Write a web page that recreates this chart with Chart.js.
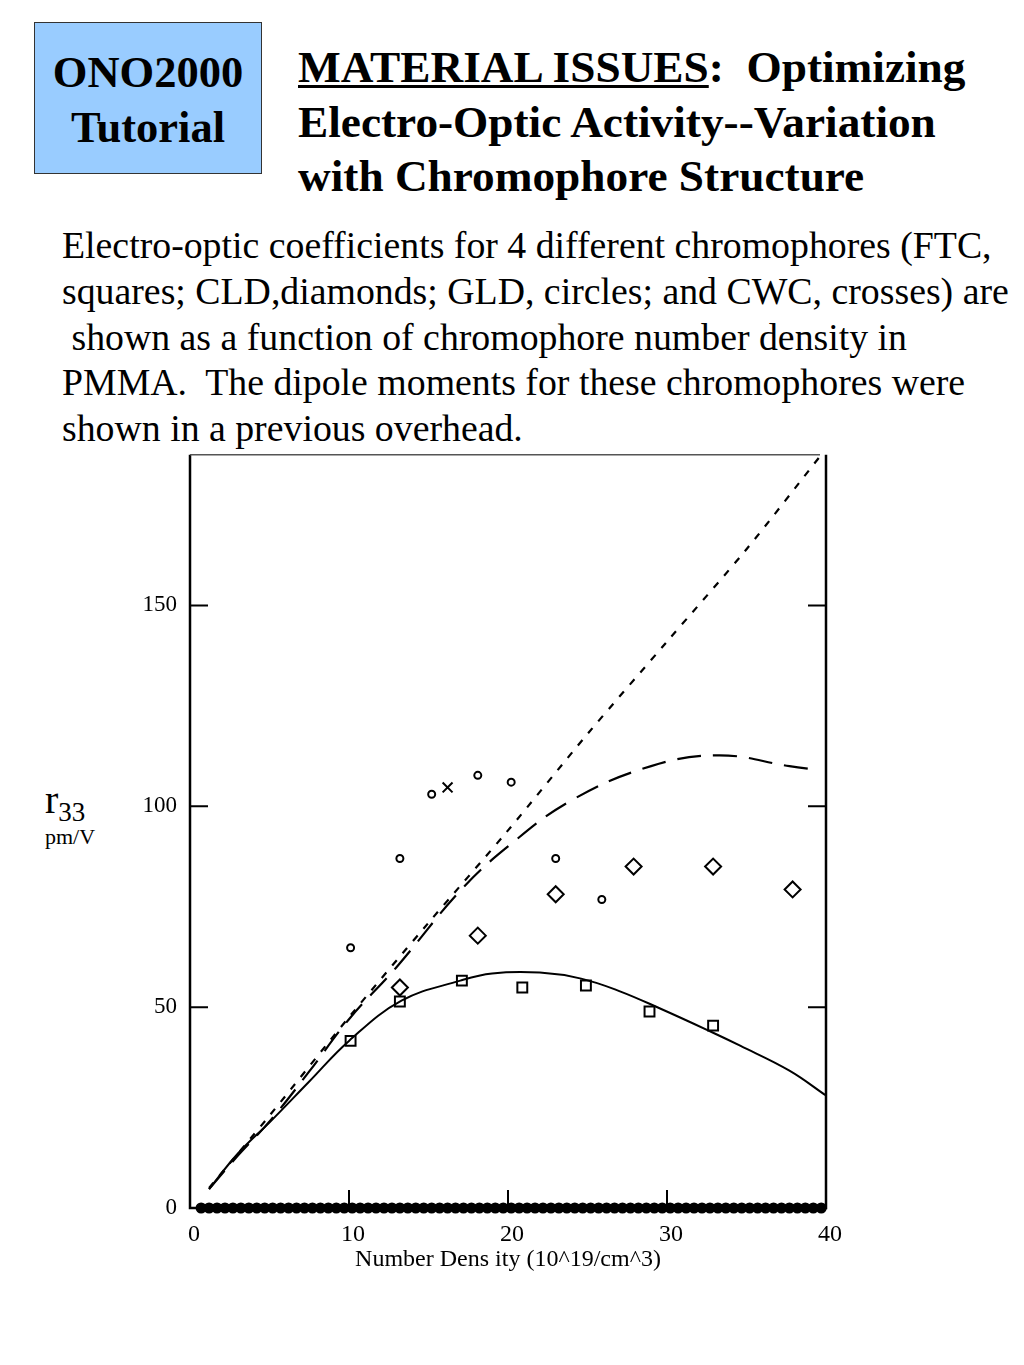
<!DOCTYPE html>
<html>
<head>
<meta charset="utf-8">
<script src="https://cdn.jsdelivr.net/npm/chart.js@4.4.1/dist/chart.umd.min.js"></script>
<style>
  body { margin: 0; background: #fff; font-family: "Liberation Serif", "Times New Roman", serif; }
  #page { position: relative; width: 1024px; height: 1365px; overflow: hidden; }
  #badge {
    position: absolute; left: 34px; top: 22px; width: 228px; height: 152px;
    background: #99ccff; border: 1px solid #333; box-sizing: border-box;
    font-weight: bold; font-size: 44.5px; line-height: 55px; text-align: center;
    padding-top: 22px;
  }
  #title {
    position: absolute; left: 298px; top: 40px; font-weight: bold;
    font-size: 45.3px; line-height: 54.5px; white-space: nowrap;
  }
  #title u { text-decoration-thickness: 3px; text-underline-offset: 3px; }
  #desc {
    position: absolute; left: 62px; top: 223px; font-size: 37.8px; line-height: 45.8px;
    white-space: pre;
  }
  #ylab { position: absolute; left: 45px; top: 776px; }
  #ylab .r { font-size: 40px; }
  #ylab sub { font-size: 27px; vertical-align: -8px; }
  #ylab .u { font-size: 22px; margin-top: -4px; }
  #wrap { position: absolute; left: 0; top: 436px; width: 1024px; height: 864px; }
</style>
</head>
<body>
<div id="page">
  <div id="badge">ONO2000<br>Tutorial</div>
  <div id="title"><u>MATERIAL ISSUES</u>:&nbsp; Optimizing<br>Electro-Optic Activity--Variation<br>with Chromophore Structure</div>
  <div id="desc">Electro-optic coefficients for 4 different chromophores (FTC,
squares; CLD,diamonds; GLD, circles; and CWC, crosses) are
 shown as a function of chromophore number density in
PMMA.  The dipole moments for these chromophores were
shown in a previous overhead.</div>
  <div id="ylab"><div><span class="r">r</span><sub>33</sub></div><div class="u">pm/V</div></div>
  <div id="wrap"><canvas id="chart"></canvas></div>
</div>
<script>
// measured points (number density, r33)
let ftcX = [10.1, 13.2, 17.1, 20.9, 24.9, 28.9, 32.9],
    ftcY = [41.6, 51.4, 56.6, 54.9, 55.4, 48.9, 45.4],
    cldX = [13.2, 18.1, 23.0, 27.9, 32.9, 37.9],
    cldY = [54.9, 67.8, 78.1, 85.0, 85.0, 79.3],
    gldX = [10.1, 13.2, 15.2, 18.1, 20.2, 23.0, 25.9],
    gldY = [64.8, 87.0, 103.0, 107.7, 106.0, 87.0, 76.8],
    cwcX = [16.2],
    cwcY = [104.7]

// fitted curves
let solidX = [1.2, 3, 5.1, 7.5, 10, 13.3, 17, 19, 22, 24.6, 27, 29.6, 32.7, 34.6, 37.7, 40],
    solidY = [4.7, 13.5, 21.7, 31.5, 41.6, 51.6, 56.6, 58.4, 58.6, 57.1, 54, 49.6, 44, 40.4, 34.2, 28],
    longX = [1.2, 3, 5.1, 7.5, 10, 13, 17, 20, 24, 29, 33.3, 37.7, 39.6],
    longY = [4.7, 13, 22, 34, 47, 60, 79, 90, 101.5, 110, 112.7, 110, 109],
    shortX = [1.2, 5, 10, 15, 20, 25, 30, 35, 39.7],
    shortY = [5, 23, 47.5, 71, 94, 118, 141, 164, 187.5]

// pile of markers sitting on the zero line
let zeroX = [0.7, 1.2, 1.7, 2.2, 2.7, 3.2, 3.7, 4.2, 4.7, 5.2, 5.7, 6.2, 6.7, 7.2, 7.7, 8.2, 8.7, 9.2, 9.7,
             10.2, 10.7, 11.2, 11.7, 12.2, 12.7, 13.2, 13.7, 14.2, 14.7, 15.2, 15.7, 16.2, 16.7, 17.2, 17.7,
             18.2, 18.7, 19.2, 19.7, 20.2, 20.7, 21.2, 21.7, 22.2, 22.7, 23.2, 23.7, 24.2, 24.7, 25.2, 25.7,
             26.2, 26.7, 27.2, 27.7, 28.2, 28.7, 29.2, 29.7, 30.2, 30.7, 31.2, 31.7, 32.2, 32.7, 33.2, 33.7,
             34.2, 34.7, 35.2, 35.7, 36.2, 36.7, 37.2, 37.7, 38.2, 38.7, 39.2, 39.7]

let xTicks = [0, 10, 20, 30, 40],
    yTicks = [0, 50, 100, 150]

const pts = (xs, ys) => xs.map((x, i) => ({x: x, y: ys[i]}))

// frame + inward tick marks like the original plot
const frame = {
  id: "frame",
  afterDatasetsDraw(chart) {
    let c = chart.ctx, a = chart.chartArea, xs = chart.scales.x, ys = chart.scales.y
    c.save()
    c.strokeStyle = "#000"
    c.lineWidth = 2.5
    c.beginPath()
    c.moveTo(a.left, a.top); c.lineTo(a.left, a.bottom); c.lineTo(a.right, a.bottom); c.lineTo(a.right, a.top)
    c.stroke()
    c.strokeStyle = "#555"
    c.lineWidth = 1.5
    c.beginPath(); c.moveTo(a.left, a.top); c.lineTo(a.right - 6, a.top); c.stroke()
    c.strokeStyle = "#000"
    c.lineWidth = 2
    c.beginPath()
    for (let v of [50, 100, 150]) {
      let py = ys.getPixelForValue(v)
      c.moveTo(a.left, py); c.lineTo(a.left + 18, py)
      c.moveTo(a.right, py); c.lineTo(a.right - 18, py)
    }
    for (let v of [10, 20, 30]) {
      let px = xs.getPixelForValue(v)
      c.moveTo(px, a.bottom); c.lineTo(px, a.bottom - 18)
    }
    c.stroke()
    c.restore()
  }
}

new Chart(document.getElementById("chart"), {
  type: "scatter",
  plugins: [frame],
  data: {
    datasets: [
      {data: pts(shortX, shortY), showLine: true, borderColor: "#000", borderWidth: 2.2, borderDash: [7, 9], pointRadius: 0, tension: 0.3},
      {data: pts(longX, longY), showLine: true, borderColor: "#000", borderWidth: 2.2, borderDash: [24, 12], pointRadius: 0, tension: 0.4},
      {data: pts(solidX, solidY), showLine: true, borderColor: "#000", borderWidth: 2, pointRadius: 0, tension: 0.4},
      {data: pts(ftcX, ftcY), pointStyle: "rect", pointRadius: 7, borderColor: "#000", borderWidth: 2, backgroundColor: "rgba(0,0,0,0)"},
      {data: pts(cldX, cldY), pointStyle: "rectRot", pointRadius: 8, borderColor: "#000", borderWidth: 2, backgroundColor: "rgba(0,0,0,0)"},
      {data: pts(gldX, gldY), pointStyle: "circle", pointRadius: 3.5, borderColor: "#000", borderWidth: 2, backgroundColor: "#fff"},
      {data: pts(cwcX, cwcY), pointStyle: "crossRot", pointRadius: 7, borderColor: "#000", borderWidth: 2},
      {data: zeroX.map(x => ({x: x, y: 0})), clip: false, pointStyle: "circle", pointRadius: 4.8, borderColor: "#000", borderWidth: 1.5, backgroundColor: "#000"}
    ]
  },
  options: {
    responsive: true,
    maintainAspectRatio: false,
    animation: false,
    events: [],
    layout: {padding: {left: 136, right: 198, top: 0, bottom: 26}},
    plugins: {legend: {display: false}, tooltip: {enabled: false}},
    scales: {
      x: {
        type: "linear", min: 0, max: 40,
        afterBuildTicks: s => { s.ticks = xTicks.map(v => ({value: v})) },
        afterFit: s => { s.height = 66 },
        grid: {display: false},
        border: {display: false},
        ticks: {color: "#000", padding: 4, labelOffset: 4, font: {family: "Liberation Serif", size: 24}},
        title: {display: true, text: "Number Dens ity (10^19/cm^3)", color: "#000", padding: {top: 0, bottom: 0},
                font: {family: "Liberation Serif", size: 24}}
      },
      y: {
        type: "linear", min: 0, max: 187.5,
        afterBuildTicks: s => { s.ticks = yTicks.map(v => ({value: v})) },
        afterFit: s => { s.width = 54 },
        grid: {display: false},
        border: {display: false},
        ticks: {color: "#000", padding: 5, font: {family: "Liberation Serif", size: 23}}
      }
    }
  }
})
</script>
</body>
</html>
